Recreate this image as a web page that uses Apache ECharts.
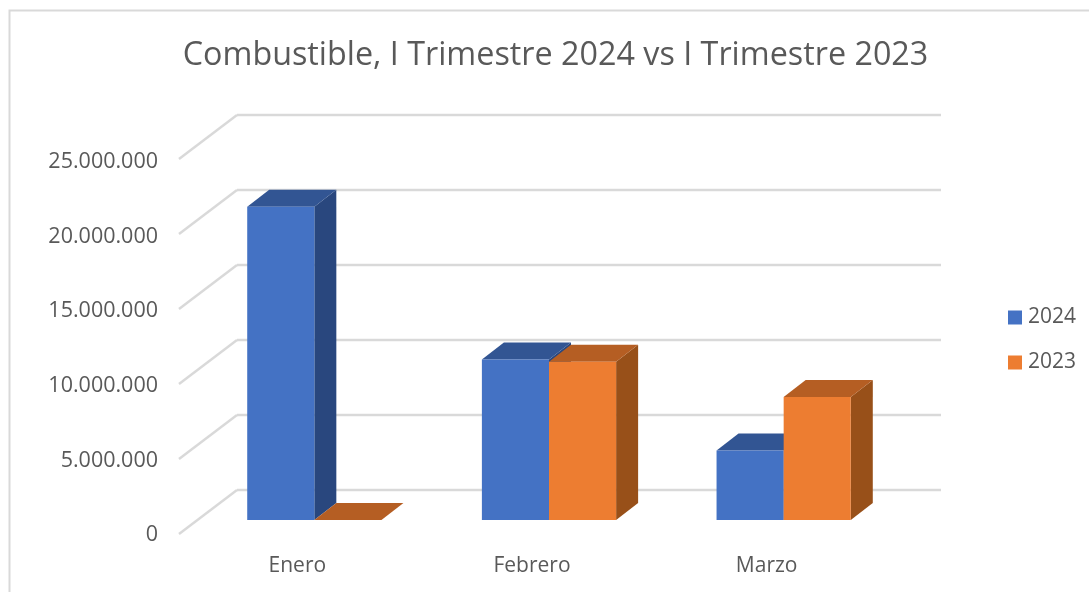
<!DOCTYPE html>
<html>
<head>
<meta charset="utf-8">
<style>html,body{margin:0;padding:0;background:#fff;overflow:hidden}#c{width:1089px;height:592px}</style>
<script src="https://cdn.jsdelivr.net/npm/echarts@6/dist/echarts.min.js"></script>
</head>
<body>
<div id="c"></div>
<script>
const categories = ['Enero', 'Febrero', 'Marzo'];
const values2024 = [21000000, 10750000, 4650000];
const values2023 = [0, 10600000, 8250000];
const wallTicks = [0, 5000000, 10000000, 15000000, 20000000, 25000000];
const titleText = 'Combustible, I Trimestre 2024 vs I Trimestre 2023';

const FONT = '"Open Sans", sans-serif';
const TEXT = '#595959';
const GRID = '#d9d9d9';

const chart = echarts.init(document.getElementById('c'), null, { renderer: 'canvas' });

function barRenderer(slot, front, top, side) {
  const depthX = 22, depthY = 17, ratio = 0.286;
  return function (params, api) {
    const c = api.coord([api.value(0), api.value(1)]);
    const base = api.coord([api.value(0), 0]);
    const w = api.size([1, 0])[0] * ratio;
    const x0 = c[0] + slot * w, x1 = x0 + w;
    const yT = c[1], yB = base[1];
    return {
      type: 'group',
      children: [
        { type: 'polygon', shape: { points: [[x1, yT], [x1 + depthX, yT - depthY], [x1 + depthX, yB - depthY], [x1, yB]] }, style: { fill: side } },
        { type: 'polygon', shape: { points: [[x0, yT], [x1, yT], [x1 + depthX, yT - depthY], [x0 + depthX, yT - depthY]] }, style: { fill: top } },
        { type: 'rect', shape: { x: x0, y: yT, width: w, height: yB - yT }, style: { fill: front } }
      ]
    };
  };
}

function diagonalRenderer(params, api) {
  const y = api.coord([0, api.value(0)])[1];
  const x = params.coordSys.x;
  return {
    type: 'line',
    shape: { x1: x, y1: y, x2: x - 58, y2: y + 44 },
    style: { stroke: GRID, lineWidth: 2.4 }
  };
}

const hiddenX = (gridIndex, show) => ({
  type: 'category', gridIndex, data: categories,
  axisLine: { show: false }, axisTick: { show: false },
  axisLabel: show ? { show: true, color: TEXT, fontFamily: FONT, fontSize: 21, margin: 21 } : { show: false },
  splitLine: { show: false }
});
const valueY = (gridIndex, labels, split) => ({
  type: 'value', gridIndex, min: 0, max: 25000000, interval: 5000000,
  axisLine: { show: false }, axisTick: { show: false },
  axisLabel: labels ? {
    show: true, color: TEXT, fontFamily: FONT, fontSize: 21.5, margin: 22,
    formatter: v => String(v).replace(/\B(?=(\d{3})+(?!\d))/g, '.')
  } : { show: false },
  splitLine: split ? { show: true, lineStyle: { color: GRID, width: 2.4 } } : { show: false }
});

chart.setOption({
  animation: false,
  backgroundColor: '#ffffff',
  title: {
    text: titleText, left: 550.5, top: 35, textAlign: 'center',
    textStyle: { color: TEXT, fontFamily: FONT, fontSize: 32.3, fontWeight: 'normal' }
  },
  legend: {
    orient: 'vertical', left: 1003, top: 302, padding: 5, itemWidth: 14, itemHeight: 14, itemGap: 24,
    icon: 'rect', data: ['2024', '2023'],
    textStyle: { color: TEXT, fontFamily: FONT, fontSize: 21, padding: [0, 0, 0, 1] },
    selectedMode: false
  },
  graphic: [
    { type: 'polyline', silent: true, shape: { points: [[9.5, 592], [9.5, 10.5], [1089, 10.5]] }, style: { stroke: GRID, lineWidth: 2, fill: null } }
  ],
  grid: [
    { left: 237, width: 704, top: 115, height: 375 },
    { left: 180, width: 704, top: 162, height: 373 },
    { left: 197, width: 704, top: 147, height: 373 }
  ],
  xAxis: [hiddenX(0, false), hiddenX(1, true), hiddenX(2, false)],
  yAxis: [valueY(0, false, true), valueY(1, true, false), valueY(2, false, false)],
  series: [
    {
      type: 'custom', name: 'wall', xAxisIndex: 0, yAxisIndex: 0, clip: false, z: 1,
      data: wallTicks.map(v => [v]), encode: { y: 0 }, renderItem: diagonalRenderer
    },
    {
      type: 'custom', name: '2024', xAxisIndex: 2, yAxisIndex: 2, clip: false, z: 3,
      itemStyle: { color: '#4472c4' },
      data: values2024.map((v, i) => [i, v]), encode: { x: 0, y: 1 },
      renderItem: barRenderer(-1, '#4472c4', '#325593', '#29477e')
    },
    {
      type: 'custom', name: '2023', xAxisIndex: 2, yAxisIndex: 2, clip: false, z: 4,
      itemStyle: { color: '#ed7d31' },
      data: values2023.map((v, i) => [i, v]), encode: { x: 0, y: 1 },
      renderItem: barRenderer(0, '#ed7d31', '#b55e23', '#985019')
    }
  ]
});
</script>
</body>
</html>
